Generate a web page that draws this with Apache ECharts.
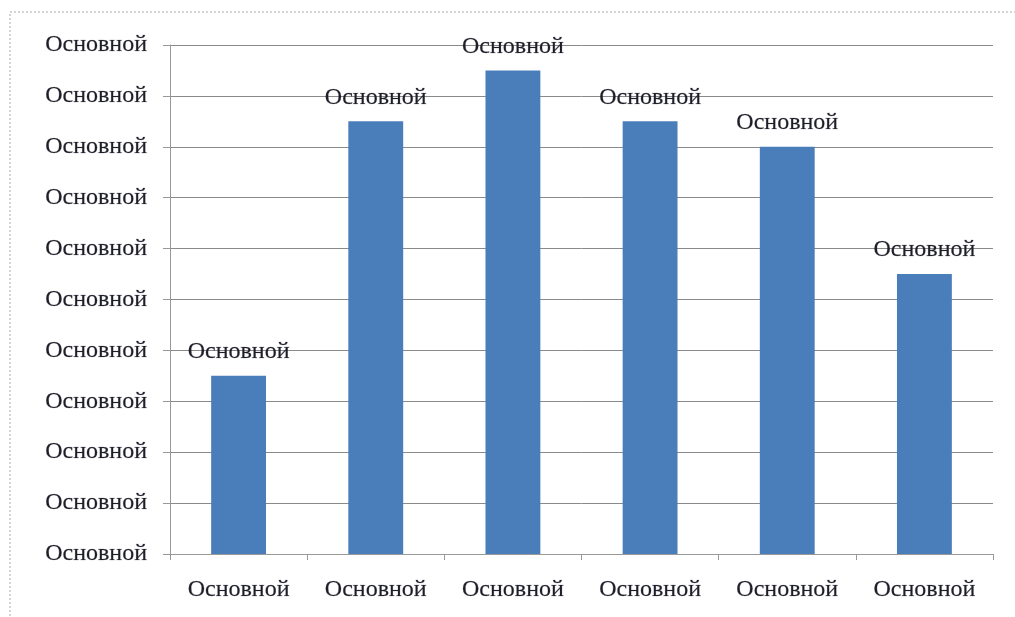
<!DOCTYPE html>
<html><head><meta charset="utf-8">
<script src="https://cdn.jsdelivr.net/npm/echarts@6/dist/echarts.min.js"></script>
<style>html,body{margin:0;padding:0;background:#fff}#c{width:1015px;height:617px}</style>
</head><body><div id="c"></div>
<script>
const categories = ['Основной','Основной','Основной','Основной','Основной','Основной'];
const values = [3.5, 8.5, 9.5, 8.5, 8, 5.5];
const dataLabels = ['Основной','Основной','Основной','Основной','Основной','Основной'];
const yTickLabel = 'Основной';

const chart = echarts.init(document.getElementById('c'));
const font = '"Liberation Serif", "DejaVu Serif", serif';
const txt = {color: '#1e1e28', fontFamily: font, fontSize: 24, fontWeight: 'normal',
  textBorderColor: 'rgba(40,40,60,0.35)', textBorderWidth: 0.6};
chart.setOption({
  animation: false,
  graphic: [{
    type: 'rect', shape: {x: 10, y: 12, width: 1020, height: 620},
    style: {fill: 'none', stroke: '#aaa', lineWidth: 1, lineDash: [2, 2]}
  }],
  grid: {left: 170, right: 22, top: 45, bottom: 63},
  xAxis: {
    type: 'category', data: categories,
    axisLine: {lineStyle: {color: '#999'}},
    axisTick: {show: true, length: 6, lineStyle: {color: '#999'}},
    axisLabel: Object.assign({margin: 24}, txt)
  },
  yAxis: {
    type: 'value', min: 0, max: 10, interval: 1,
    axisLine: {show: true, lineStyle: {color: '#999'}},
    axisTick: {show: true, length: 7, lineStyle: {color: '#999'}},
    splitLine: {lineStyle: {color: '#8a8a8a', width: 1}},
    axisLabel: Object.assign({margin: 23, formatter: () => yTickLabel}, txt)
  },
  series: [{
    type: 'bar', data: values, barWidth: '40%',
    itemStyle: {color: '#4a7ebb'},
    label: Object.assign({show: true, position: 'top', distance: 12,
      formatter: p => dataLabels[p.dataIndex]}, txt)
  }]
});
</script></body></html>
